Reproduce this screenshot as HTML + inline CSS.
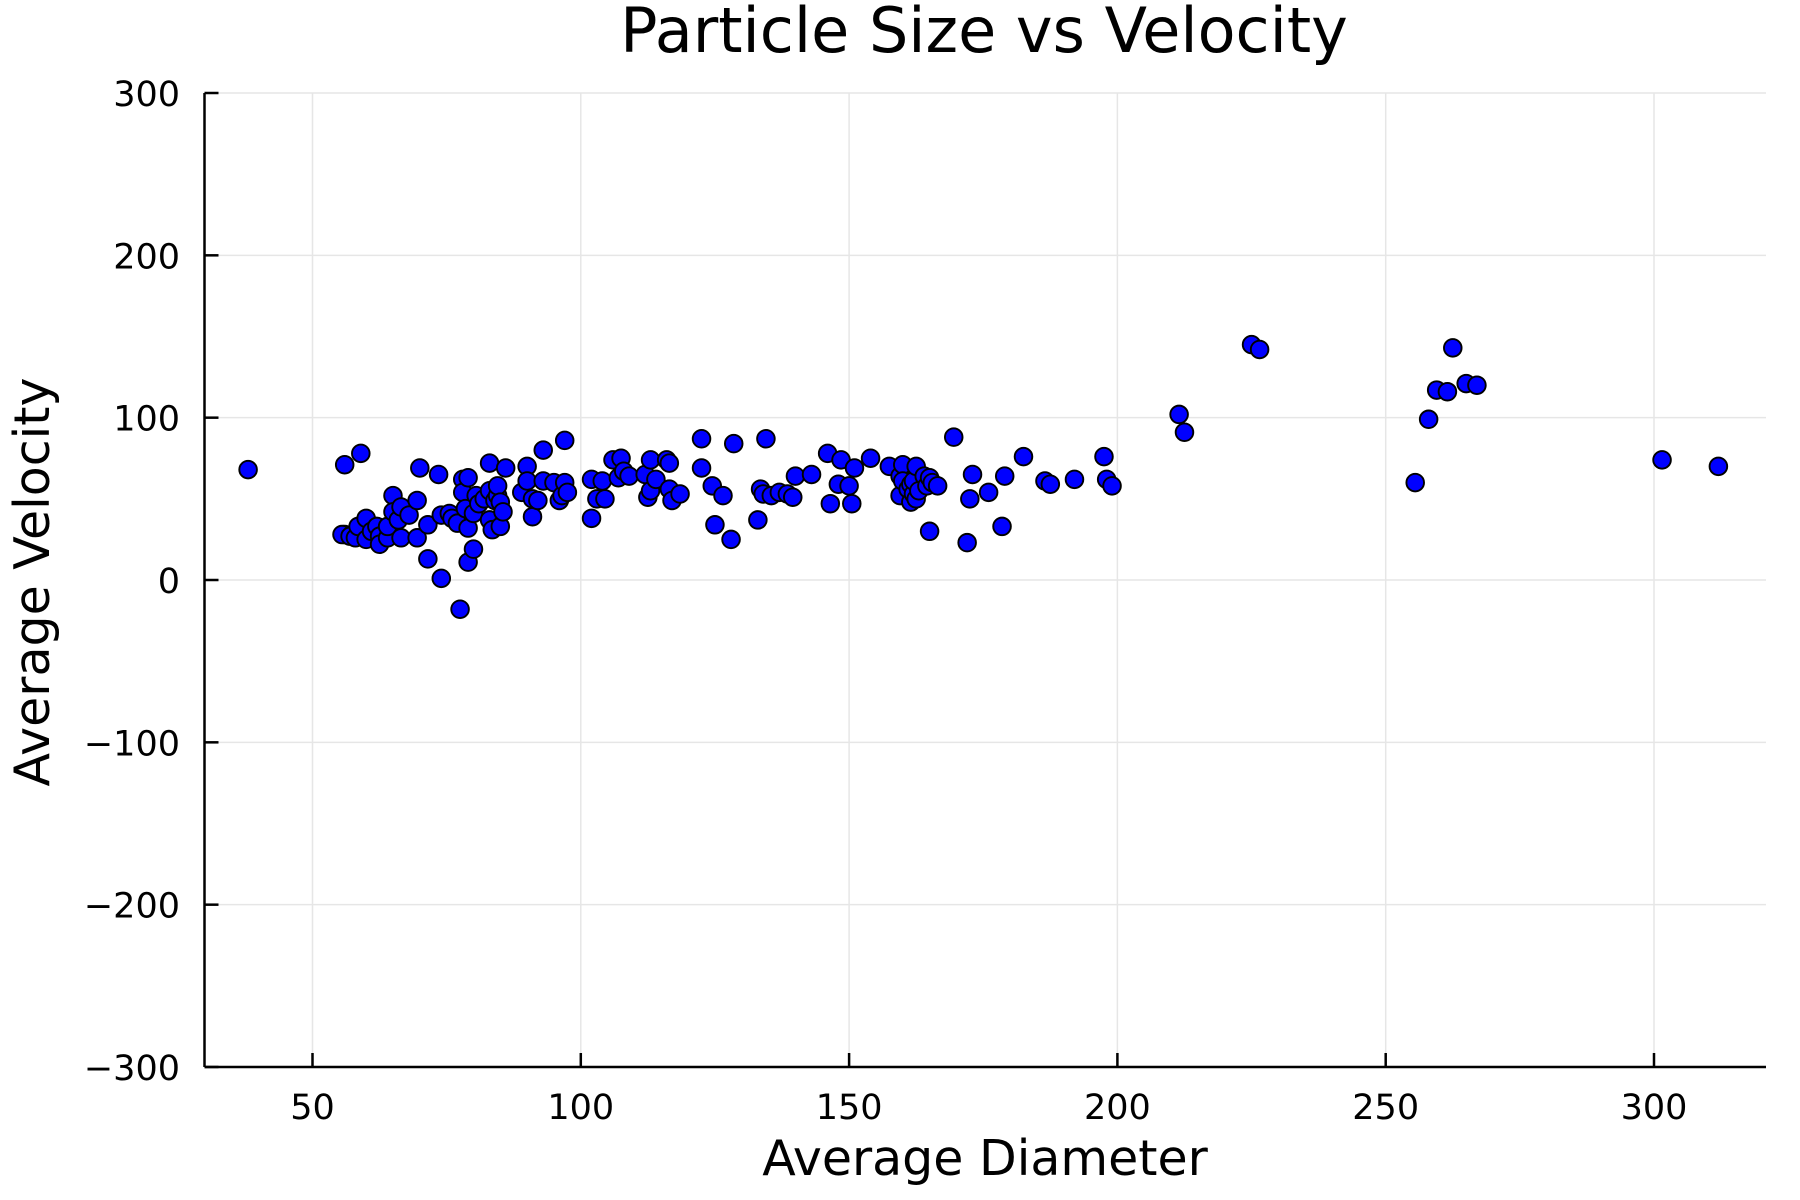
<!DOCTYPE html>
<html><head><meta charset="utf-8">
<style>
html,body{margin:0;padding:0;background:#fff;}
svg{display:block;font-family:"DejaVu Sans","Liberation Sans",sans-serif;}
</style></head>
<body>
<svg id="chart" width="1800" height="1200" viewBox="0 0 1800 1200">
<rect width="1800" height="1200" fill="#fff"/>
<g id="grid"></g>
<g id="axes"></g>
<g id="points"></g>
<text x="984" y="52" text-anchor="middle" font-size="62" fill="#000">Particle Size vs Velocity</text>
<text x="985" y="1175" text-anchor="middle" font-size="49" fill="#000">Average Diameter</text>
<text x="0" y="0" transform="translate(49,582) rotate(-90)" text-anchor="middle" font-size="49" fill="#000">Average Velocity</text>
</svg>
<script>
const xTicks=[50,100,150,200,250,300];
const yTicks=[-300,-200,-100,0,100,200,300];
const yTickLabels=["\u2212300","\u2212200","\u2212100","0","100","200","300"];
const diam=[38,56,56,55.5,57,58,59,58.5,60,60,61,62,62.5,62.5,64,64,65,65,66,66.5,66.5,68,70,69.5,69.5,71.5,71.5,73.5,74,74,75.5,76,77,77.5,78,78,78.5,79,79,79,80,80,80.5,81,82,83,83,83,83.5,84,84.5,84.5,85,85,85.5,86,89,90,90,91,91,92,93,93,95,96,96.5,97,97,97.5,102,102,103,104,104.5,106,107,107.5,108,109,112,112.5,113,113,114,116,116.5,116.5,117,118.5,122.5,122.5,124.5,125,126.5,128,128.5,133,133.5,134,134.5,135.5,137,138.5,139.5,140,143,146,146.5,148,148.5,150,150.5,151,154,157.5,159.5,159.5,160,160,161,161.5,161.5,162,162,162.5,162.5,163,164,164.5,165,165,165.5,166.5,169.5,172,172.5,173,176,178.5,179,182.5,186.5,187.5,192,197.5,198,199,211.5,212.5,225,226.5,255.5,258,259.5,261.5,262.5,265,267,301.5,312];
const vel=[68,71,28,28,27,26,78,33,38,25,30,33,27,22,26,33,52,42,37,45,26,40,69,49,26,34,13,65,40,1,41,38,35,-18,62,54,44,63,32,11,19,41,52,47,50,72,55,37,31,49,52,58,33,48,42,69,54,70,61,39,50,49,80,61,60,49,52,86,60,54,62,38,50,61,50,74,63,75,67,64,65,51,74,55,62,74,72,56,49,53,87,69,58,34,52,25,84,37,56,53,87,52,54,53,51,64,65,78,47,59,74,58,47,69,75,70,64,52,71,61,56,48,59,53,61,70,50,55,64,58,30,63,60,58,88,23,50,65,54,33,64,76,61,59,62,76,62,58,102,91,145,142,60,99,117,116,143,121,120,74,70];

const NS="http://www.w3.org/2000/svg";
const L=204.5,R=1766,T=93,B=1067;
function sx(v){return 312.5+(v-50)*(1654-312.5)/250;}
function sy(v){return 580-v*(B-T)/600;}
function mk(tag,attrs,parent){const e=document.createElementNS(NS,tag);for(const k in attrs)e.setAttribute(k,attrs[k]);parent.appendChild(e);return e;}
const grid=document.getElementById('grid'),axes=document.getElementById('axes'),pts=document.getElementById('points');
xTicks.forEach(t=>{
  const g=mk('line',{x1:sx(t),x2:sx(t),y1:T,y2:B,stroke:'#e6e6e6','stroke-width':1.5},grid);
  
  
  const tk=mk('line',{x1:sx(t),x2:sx(t),y1:B,y2:B-14,stroke:'#000','stroke-width':2.5},axes);
  
  
  const tx=mk('text',{x:sx(t),y:1119,'text-anchor':'middle','font-size':35,fill:'#000'},axes);
  tx.textContent=t;
  
  
});
yTicks.forEach((t,i)=>{
  const g=mk('line',{x1:L,x2:R,y1:sy(t),y2:sy(t),stroke:'#e6e6e6','stroke-width':1.5},grid);
  
  
  const tk=mk('line',{x1:L,x2:L+14,y1:sy(t),y2:sy(t),stroke:'#000','stroke-width':2.5},axes);
  
  
  const tx=mk('text',{x:180,y:sy(t)+13,'text-anchor':'end','font-size':35,fill:'#000'},axes);
  tx.textContent=yTickLabels[i];
  
  
});
const ax=mk('line',{x1:L,x2:R,y1:B,y2:B,stroke:'#000','stroke-width':2.5},axes);


const ay=mk('line',{x1:L,x2:L,y1:T,y2:B,stroke:'#000','stroke-width':2.5},axes);


diam.forEach((d,i)=>{
  const c=mk('circle',{cx:sx(d),cy:sy(vel[i]),r:8.8,fill:'#0000ff',stroke:'#000','stroke-width':1.9},pts);
  
  
});
</script>
</body></html>
